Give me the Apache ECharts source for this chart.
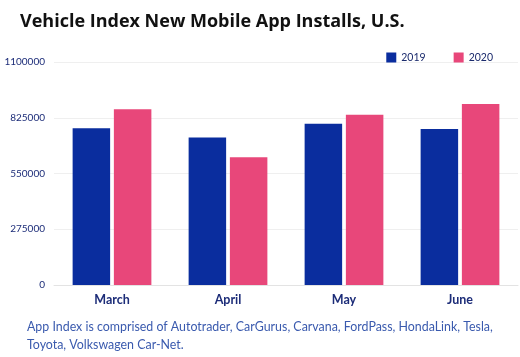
<!DOCTYPE html>
<html><head><meta charset="utf-8">
<script src="https://cdn.jsdelivr.net/npm/echarts@6/dist/echarts.min.js"></script>
<style>html,body{margin:0;padding:0;background:#fff;}#c{width:520px;height:357px;}</style>
</head><body><div id="c"></div>
<script>
const categories = ["March", "April", "May", "June"];
const series2019 = [773000, 727000, 796000, 770000];
const series2020 = [867000, 630000, 840000, 893000];
const yTicks = [0, 275000, 550000, 825000, 1100000];
const titleText = "Vehicle Index New Mobile App Installs, U.S.";
const footnote = "App Index is comprised of Autotrader, CarGurus, Carvana, FordPass, HondaLink, Tesla,\nToyota, Volkswagen Car-Net.";

const chart = echarts.init(document.getElementById('c'), null, {renderer: 'canvas'});
chart.setOption({
  animation: false,
  backgroundColor: '#ffffff',
  title: [{
    text: titleText, left: 15, top: 8,
    textStyle: {fontFamily: 'Open Sans', fontWeight: 'bold', fontSize: 18, color: '#111111'}
  }, {
    text: footnote, left: 22, top: 313,
    textStyle: {fontFamily: 'Lato', fontWeight: 'normal', fontSize: 12.4, color: '#3a5aae', lineHeight: 18}
  }],
  legend: {
    right: 22, top: 47, itemWidth: 10, itemHeight: 10, itemGap: 28,
    icon: 'rect',
    textStyle: {fontFamily: 'Lato', fontSize: 10.5, color: '#1a2a6c'},
    data: ['2019', '2020']
  },
  grid: {left: 54, right: 2, top: 62, bottom: 72, containLabel: false},
  xAxis: {
    type: 'category', data: categories,
    axisLine: {lineStyle: {color: '#e3e3e3'}},
    axisTick: {show: false},
    axisLabel: {fontFamily: 'Lato', fontWeight: 'bold', fontSize: 12.5, color: '#1c2c78', margin: 8}
  },
  yAxis: {
    type: 'value', min: yTicks[0], max: yTicks[yTicks.length - 1], interval: yTicks[1] - yTicks[0],
    axisLine: {show: false}, axisTick: {show: false},
    splitLine: {lineStyle: {color: '#efefef'}},
    axisLabel: {fontFamily: 'Lato', fontSize: 10, color: '#1c2c78', margin: 9, formatter: v => String(v)}
  },
  series: [{
    name: '2019', type: 'bar', data: series2019, barWidth: 37.5, barGap: '10%',
    itemStyle: {color: '#0a2d9e'}
  }, {
    name: '2020', type: 'bar', data: series2020, barWidth: 37.5,
    itemStyle: {color: '#e8477a'}
  }]
});
</script></body></html>
